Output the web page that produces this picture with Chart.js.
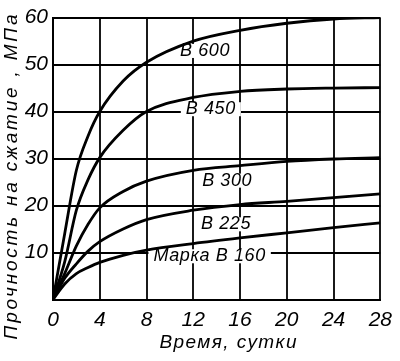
<!DOCTYPE html>
<html><head><meta charset="utf-8">
<script src="https://cdn.jsdelivr.net/npm/chart.js@4"></script>
<style>html,body{margin:0;padding:0;background:#fff}</style>
</head><body>
<canvas id="c" width="400" height="361" style="display:block;width:400px;height:361px"></canvas>
<script>
// ---- data ----
const days  = [0, 1, 2, 3, 4, 6, 8, 12, 16, 20, 24, 28];
const b600  = [0, 14, 27.5, 34.8, 40, 46.5, 50.5, 55, 57.3, 58.8, 59.7, 60];
const b450  = [0, 8, 19, 25.5, 30.2, 36, 40, 43, 44.3, 44.8, 45, 45.1];
const b300  = [0, 5.5, 11.4, 16, 19.5, 23, 25.2, 27.5, 28.5, 29.4, 29.9, 30.2];
const b225  = [0, 4.5, 7.6, 10.3, 12.3, 15, 17, 19, 20.2, 20.9, 21.7, 22.5];
const b160  = [0, 3.3, 5.5, 6.8, 7.9, 9.4, 10.5, 11.9, 13.1, 14.2, 15.3, 16.3];
const seriesNames = ['В 600', 'В 450', 'В 300', 'В 225', 'Марка В 160'];
const labelDays   = [13.0, 13.5, 14.9, 14.8, 13.4];
const labelValues = [52.9, 40.5, 25.3, 16.0, 9.2];
const xTickStep = 4;
const yTickStep = 10;
const xMax = 28;
const yMax = 60;
const xTitle = 'Время, сутки';
const yTitle = 'Прочность на сжатие , МПа';

const FAMILY = '"Liberation Sans", Arial, sans-serif';
const series = [b600, b450, b300, b225, b160];

const annot = {
  id: 'annot',
  beforeDatasetsDraw(chart) {
    const { ctx, chartArea: a, scales: { x, y } } = chart;
    ctx.save();
    // grid lines placed at the library's own tick positions
    ctx.strokeStyle = '#000';
    ctx.lineWidth = 1.8;
    ctx.lineCap = 'butt';
    x.ticks.forEach(t => {
      const px = Math.round(x.getPixelForValue(t.value));
      ctx.beginPath(); ctx.moveTo(px, a.top); ctx.lineTo(px, a.bottom); ctx.stroke();
    });
    y.ticks.forEach(t => {
      const py = Math.round(y.getPixelForValue(t.value));
      ctx.beginPath(); ctx.moveTo(a.left, py); ctx.lineTo(a.right, py); ctx.stroke();
    });
    ctx.font = 'italic 18px ' + FAMILY;
    ctx.letterSpacing = '0.6px';
    ctx.textAlign = 'center';
    ctx.textBaseline = 'middle';
    seriesNames.forEach((t, i) => {
      const px = x.getPixelForValue(labelDays[i]);
      const py = y.getPixelForValue(labelValues[i]);
      const w = ctx.measureText(t).width;
      ctx.fillStyle = '#fff';
      ctx.fillRect(px - w / 2 - 5, py - 7, w + 10, 14);
      ctx.fillStyle = '#000';
      ctx.fillText(t, px, py);
    });
    ctx.restore();
  },
  afterDraw(chart) {
    const ctx = chart.ctx;
    const drawFit = (text, cx, cy, target, rot) => {
      ctx.save();
      ctx.font = 'italic 19px ' + FAMILY;
      ctx.fillStyle = '#000';
      ctx.textAlign = 'center';
      ctx.textBaseline = 'middle';
      ctx.letterSpacing = '0px';
      const w = ctx.measureText(text).width;
      const ls = Math.max(0, (target - w) / (text.length - 1));
      ctx.letterSpacing = ls.toFixed(2) + 'px';
      ctx.translate(cx, cy);
      if (rot) ctx.rotate(-Math.PI / 2);
      ctx.fillText(text, ls / 2, 0);
      ctx.restore();
    };
    drawFit(xTitle, 228, 343, 137, false);
    drawFit(yTitle, 12, 177, 325, true);
  }
};

new Chart(document.getElementById('c'), {
  type: 'line',
  data: {
    datasets: series.map((s, i) => ({
      label: seriesNames[i],
      data: days.map((d, j) => ({ x: d, y: s[j] })),
      borderColor: '#000',
      borderWidth: 2.8,
      pointRadius: 0,
      cubicInterpolationMode: 'monotone',
      fill: false
    }))
  },
  options: {
    responsive: false,
    devicePixelRatio: 1,
    animation: false,
    layout: { padding: { top: 13, right: 10, left: 0, bottom: 0 } },
    plugins: { legend: { display: false }, tooltip: { enabled: false } },
    scales: {
      x: {
        type: 'linear', min: 0, max: xMax,
        afterFit: s => { s.height = 61.5; },
        ticks: { stepSize: xTickStep, color: '#000', padding: 8, maxRotation: 0, autoSkip: false,
                 font: { family: FAMILY, size: 21, style: 'italic' } },
        grid: { display: false, drawTicks: false },
        border: { display: true, color: '#000', width: 2 }
      },
      y: {
        type: 'linear', min: 0, max: yMax,
        afterFit: s => { s.width = 53; },
        ticks: { stepSize: yTickStep, color: '#000', padding: 5, autoSkip: false,
                 callback: v => (v === 0 ? '' : String(v)),
                 font: { family: FAMILY, size: 21, style: 'italic' } },
        grid: { display: false, drawTicks: false },
        border: { display: true, color: '#000', width: 2 }
      }
    }
  },
  plugins: [annot]
});
</script>
</body></html>
